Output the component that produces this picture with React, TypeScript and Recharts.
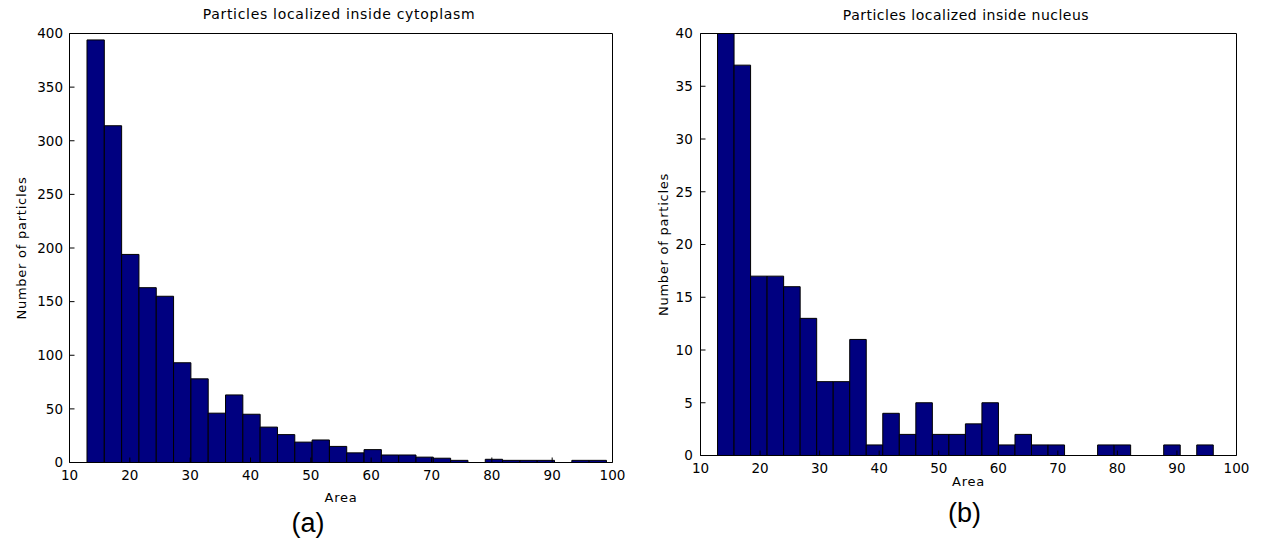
import { ComposedChart, ReferenceArea, XAxis, YAxis } from "recharts";

// histogram counts, 30 equal bins each
const cytoCounts = [
  394, 314, 194, 163, 155, 93, 78, 46, 63, 45, 33, 26, 19, 21, 15, 9, 12, 7, 7, 5,
  4, 2, 0, 3, 2, 2, 2, 0, 2, 2,
];
const cytoRange: [number, number] = [12.9, 99.0];

const nucCounts = [
  40, 37, 17, 17, 16, 13, 7, 7, 11, 1, 4, 2, 5, 2, 2, 3, 5, 1, 2, 1, 1, 0, 0, 1, 1,
  0, 0, 1, 0, 1,
];
const nucRange: [number, number] = [12.86, 96.1];

const areaTicks = [10, 20, 30, 40, 50, 60, 70, 80, 90, 100];
const cytoCountTicks = [0, 50, 100, 150, 200, 250, 300, 350, 400];
const nucCountTicks = [0, 5, 10, 15, 20, 25, 30, 35, 40];

const BAR_FILL = "#000080";
const FONT = "DejaVu Sans";

type HistProps = {
  counts: number[];
  range: [number, number];
  yTicks: number[];
  left: number;
  width: number;
  margin: { top: number; right: number; bottom: number; left: number };
  xTickMargin: number;
  yTickMargin: number;
  xLabelOffset: number;
  yLabelOffset: number;
};

const Histogram = ({
  counts,
  range,
  yTicks,
  left,
  width,
  margin,
  xTickMargin,
  yTickMargin,
  xLabelOffset,
  yLabelOffset,
}: HistProps) => {
  const [lo, hi] = range;
  const step = (hi - lo) / counts.length;
  const bins = counts.map((count, i) => ({
    x1: lo + i * step,
    x2: lo + (i + 1) * step,
    count,
  }));
  const yMax = yTicks[yTicks.length - 1];
  const tickStyle = { fill: "#000", fontSize: 13.5, fontFamily: FONT };
  const labelStyle = { fill: "#000", fontSize: 13, fontFamily: FONT, letterSpacing: 0.75 };

  return (
    <div style={{ position: "absolute", left, top: 0 }}>
      <ComposedChart width={width} height={530} data={bins} margin={margin}>
        {bins.map((b, i) => (
          <ReferenceArea
            key={i}
            x1={b.x1}
            x2={b.x2}
            y1={0}
            y2={b.count}
            fill={BAR_FILL}
            fillOpacity={1}
            stroke="#000"
            strokeWidth={1}
            ifOverflow="visible"
          />
        ))}
        <XAxis
          type="number"
          dataKey="x1"
          domain={[10, 100]}
          ticks={areaTicks}
          interval={0}
          allowDataOverflow
          height={30}
          tickSize={-5}
          tickMargin={xTickMargin}
          tick={tickStyle}
          tickLine={{ stroke: "#000" }}
          axisLine={{ stroke: "#000" }}
          label={{ value: "Area", position: "bottom", offset: xLabelOffset, style: labelStyle }}
        />
        <XAxis
          xAxisId="top"
          orientation="top"
          type="number"
          domain={[10, 100]}
          ticks={areaTicks}
          interval={0}
          allowDataOverflow
          height={1}
          tickSize={-5}
          tick={false}
          tickLine={{ stroke: "#000" }}
          axisLine={{ stroke: "#000" }}
        />
        <YAxis
          type="number"
          domain={[0, yMax]}
          ticks={yTicks}
          interval={0}
          allowDataOverflow
          width={60}
          tickSize={-5}
          tickMargin={yTickMargin}
          tick={tickStyle}
          tickLine={{ stroke: "#000" }}
          axisLine={{ stroke: "#000" }}
          label={{
            value: "Number of particles",
            angle: -90,
            position: "insideLeft",
            offset: yLabelOffset,
            style: { ...labelStyle, textAnchor: "middle" },
          }}
        />
        <YAxis
          yAxisId="right"
          orientation="right"
          type="number"
          domain={[0, yMax]}
          ticks={yTicks}
          interval={0}
          allowDataOverflow
          width={1}
          tickSize={-5}
          tick={false}
          tickLine={{ stroke: "#000" }}
          axisLine={{ stroke: "#000" }}
        />
      </ComposedChart>
    </div>
  );
};

const Caption = ({ text, cx, top, size, family, spacing = 0 }: {
  text: string; cx: number; top: number; size: number; family: string; spacing?: number;
}) => (
  <div
    style={{
      position: "absolute",
      left: cx - 200,
      top,
      width: 400,
      textAlign: "center",
      fontFamily: family,
      fontSize: size,
      lineHeight: 1,
      letterSpacing: spacing,
      color: "#000",
      whiteSpace: "nowrap",
    }}
  >
    {text}
  </div>
);

export default function App() {
  return (
    <div
      style={{
        position: "absolute",
        left: 0,
        top: 0,
        width: 1261,
        height: 540,
        background: "#fff",
        overflow: "hidden",
      }}
    >
      <Histogram
        counts={cytoCounts}
        range={cytoRange}
        yTicks={cytoCountTicks}
        left={0}
        width={630}
        margin={{ top: 32.5, right: 16.5, bottom: 37.5, left: 9.5 }}
        xTickMargin={13}
        yTickMargin={11.5}
        xLabelOffset={0}
        yLabelOffset={11.5}
      />
      <Histogram
        counts={nucCounts}
        range={nucRange}
        yTicks={nucCountTicks}
        left={630}
        width={631}
        margin={{ top: 32.5, right: 23.5, bottom: 44.5, left: 10.5 }}
        xTickMargin={12.7}
        yTickMargin={12.7}
        xLabelOffset={-8.3}
        yLabelOffset={23}
      />
      <Caption text="Particles localized inside cytoplasm" cx={339} top={7.3} size={14} family={FONT} spacing={0.7} />
      <Caption text="Particles localized inside nucleus" cx={966} top={8} size={14} family={FONT} spacing={0.5} />
      <Caption text="(a)" cx={308} top={509.5} size={27} family="Liberation Sans" />
      <Caption text="(b)" cx={964.5} top={499.5} size={27} family="Liberation Sans" />
    </div>
  );
}
